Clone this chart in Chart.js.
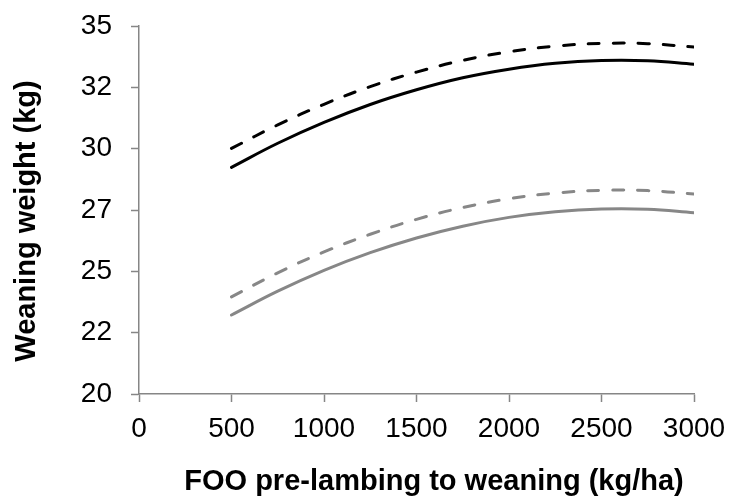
<!DOCTYPE html>
<html>
<head>
<meta charset="utf-8">
<script src="https://cdn.jsdelivr.net/npm/chart.js@4"></script>
<style>
  body { margin: 0; background: #fff; }
  #wrap { width: 729px; height: 497px; }
</style>
</head>
<body>
<div id="wrap"><canvas id="myChart" width="729" height="497"></canvas></div>
<script>
// FOO values on the x axis (kg/ha)
const foo = [500, 750, 1000, 1250, 1500, 1750, 2000, 2250, 2500, 2750, 3000];

// weaning weight (kg)
const blackSolid  = [29.24, 30.22, 31.07, 31.80, 32.40, 32.89, 33.24, 33.48, 33.59, 33.58, 33.44];
const blackDashed = [30.01, 30.97, 31.81, 32.53, 33.12, 33.60, 33.95, 34.18, 34.29, 34.28, 34.14];
const greySolid   = [23.22, 24.19, 25.04, 25.76, 26.36, 26.84, 27.20, 27.43, 27.54, 27.53, 27.39];
const greyDashed  = [23.96, 24.94, 25.79, 26.51, 27.12, 27.60, 27.96, 28.19, 28.30, 28.29, 28.15];

const yTickLabels = ['20', '22', '25', '27', '30', '32', '35'];

const xTitle = 'FOO pre-lambing to weaning (kg/ha)';
const yTitle = 'Weaning weight (kg)';

const axisGrey = '#868686';
const lineGrey = '#878787';

const toPoints = (vals) => vals.map((v, i) => ({ x: foo[i], y: v }));

const lineStyle = (color, dashed) => ({
  borderColor: color,
  backgroundColor: color,
  borderWidth: 3,
  borderDash: dashed ? [11, 14] : [],
  borderCapStyle: 'round',
  pointRadius: 0,
  tension: 0.4,
  fill: false,
});

// no extra padding from the tick labels, the layout padding sets the plot box
const noLabelPadding = (scale) => {
  scale.paddingTop = 0;
  scale.paddingBottom = 0;
  scale.paddingLeft = 0;
  scale.paddingRight = 0;
};

// axis titles, placed like the original (Excel centres them a bit off the plot)
const axisTitles = {
  id: 'axisTitles',
  afterDraw(chart) {
    const c = chart.ctx;
    c.save();
    c.fillStyle = '#000';
    c.font = 'bold 29px "Liberation Sans"';
    c.textAlign = 'center';
    c.textBaseline = 'alphabetic';
    c.fillText(xTitle, 434, 490);
    c.translate(35, 221);
    c.rotate(-Math.PI / 2);
    c.fillText(yTitle, 0, 0);
    c.restore();
  },
};

const ctx = document.getElementById('myChart').getContext('2d');
new Chart(ctx, {
  type: 'line',
  data: {
    datasets: [
      { label: 'black dashed', data: toPoints(blackDashed), ...lineStyle('#000', true) },
      { label: 'black solid', data: toPoints(blackSolid), ...lineStyle('#000', false) },
      { label: 'grey dashed', data: toPoints(greyDashed), ...lineStyle(lineGrey, true) },
      { label: 'grey solid', data: toPoints(greySolid), ...lineStyle(lineGrey, false) },
    ],
  },
  options: {
    responsive: false,
    animation: false,
    layout: { padding: { top: 26, right: 35, left: 0, bottom: 0 } },
    plugins: { legend: { display: false }, tooltip: { enabled: false } },
    scales: {
      x: {
        type: 'linear',
        min: 0,
        max: 3000,
        border: { color: axisGrey, width: 1.5 },
        grid: { drawOnChartArea: false, drawTicks: true, tickLength: 8, tickColor: axisGrey, tickWidth: 1.5 },
        ticks: {
          stepSize: 500,
          padding: 10,
          color: '#000',
          maxRotation: 0,
          font: { family: 'Liberation Sans', size: 28 },
          callback: (value) => String(value),
        },
        afterFit: (scale) => { scale.height = 103; noLabelPadding(scale); },
      },
      y: {
        min: 20,
        max: 35,
        border: { color: axisGrey, width: 1.5 },
        grid: { drawOnChartArea: false, drawTicks: true, tickLength: 8, tickColor: axisGrey, tickWidth: 1.5 },
        ticks: {
          stepSize: 2.5,
          padding: 19,
          color: '#000',
          font: { family: 'Liberation Sans', size: 28 },
          callback: (value, index) => yTickLabels[index],
        },
        afterFit: (scale) => { scale.width = 139; noLabelPadding(scale); },
      },
    },
  },
  plugins: [axisTitles],
});
</script>
</body>
</html>
